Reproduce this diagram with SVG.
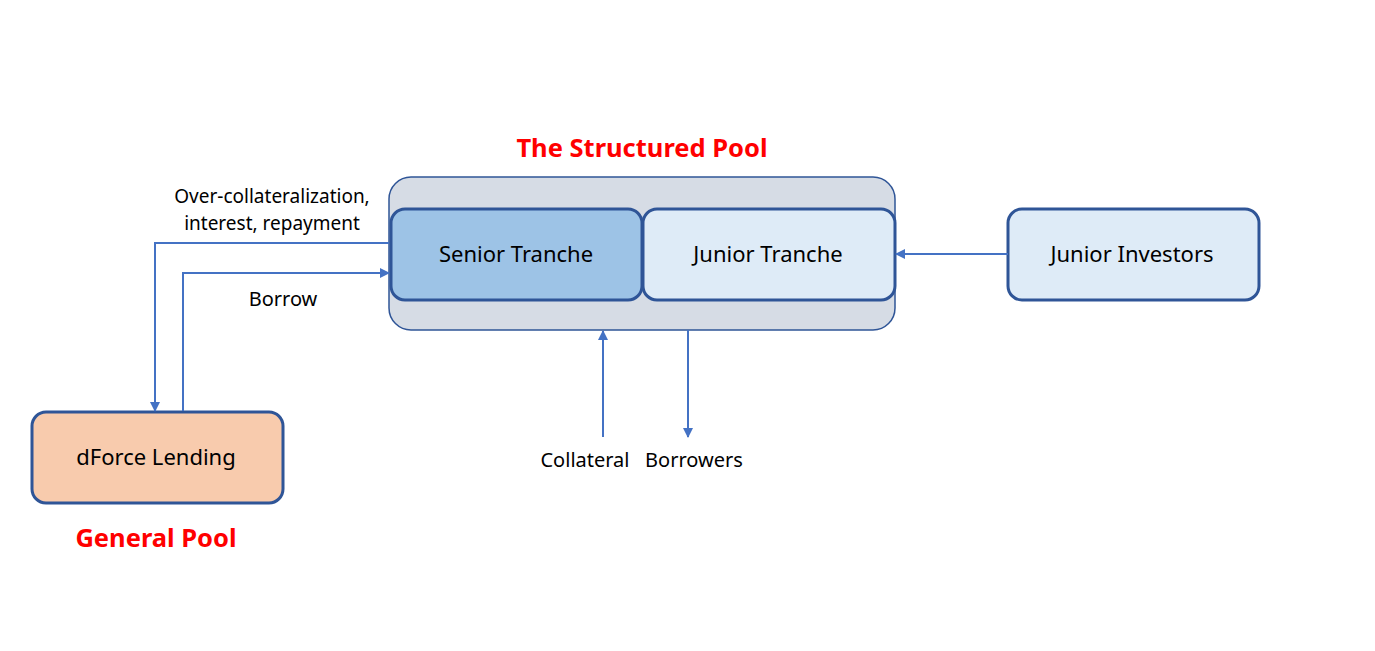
<svg xmlns="http://www.w3.org/2000/svg" width="1375" height="651" viewBox="0 0 1375 651">
<defs>
<style>
.node{stroke:#2f5597;stroke-width:3}
.lbl{font-family:"Noto Sans","DejaVu Sans",sans-serif;font-size:22px;fill:#000;text-anchor:middle;dominant-baseline:central}
.sm{font-family:"Noto Sans","DejaVu Sans",sans-serif;font-size:20px;fill:#000;text-anchor:middle;dominant-baseline:central}
.sm2{font-size:19px}
.title{font-family:"Noto Sans","DejaVu Sans",sans-serif;font-size:25.5px;font-weight:bold;fill:#ff0000;text-anchor:middle;dominant-baseline:central}
.conn{stroke:#4472c4;stroke-width:2;fill:none;marker-end:url(#arr)}
</style>
<marker id="arr" viewBox="0 0 10 10" refX="9" refY="5" markerWidth="5" markerHeight="5" orient="auto" markerUnits="strokeWidth">
<path d="M0,0 L10,5 L0,10 z" fill="#4472c4"/>
</marker>
</defs>
<rect width="1375" height="651" fill="#fff"/>
<g id="structured-pool">
<rect x="389" y="177" width="506" height="153" rx="22" fill="#d6dce5" stroke="#2f5597" stroke-width="1.5"/>
<text class="title" x="642" y="147">The Structured Pool</text>
</g>
<g id="senior-tranche">
<rect class="node" x="391" y="209" width="251" height="91" rx="14" fill="#9dc3e6"/>
<text class="lbl" x="516" y="253">Senior Tranche</text>
</g>
<g id="junior-tranche">
<rect class="node" x="643" y="209" width="252" height="91" rx="14" fill="#deebf7"/>
<text class="lbl" x="768" y="253">Junior Tranche</text>
</g>
<g id="junior-investors">
<rect class="node" x="1008" y="209" width="251" height="91" rx="14" fill="#deebf7"/>
<text class="lbl" x="1132" y="253">Junior Investors</text>
</g>
<g id="dforce-lending">
<rect class="node" x="32" y="412" width="251" height="91" rx="14" fill="#f8cbad"/>
<text class="lbl" x="156" y="456">dForce Lending</text>
<text class="title" x="156" y="537">General Pool</text>
</g>
<g id="connectors">
<polyline class="conn" points="389,243 155,243 155,411"/>
<polyline class="conn" points="183,411 183,273 389,273"/>
<line class="conn" x1="603" y1="437" x2="603" y2="331"/>
<line class="conn" x1="688" y1="330" x2="688" y2="437"/>
<line class="conn" x1="1008" y1="254" x2="896" y2="254"/>
<text class="sm sm2" x="272" y="196"><tspan x="272" y="196">Over-collateralization,</tspan><tspan x="272" y="223">interest, repayment</tspan></text>
<text class="sm" x="283" y="298">Borrow</text>
<text class="sm" x="585" y="459">Collateral</text>
<text class="sm" x="694" y="459">Borrowers</text>
</g>
</svg>
